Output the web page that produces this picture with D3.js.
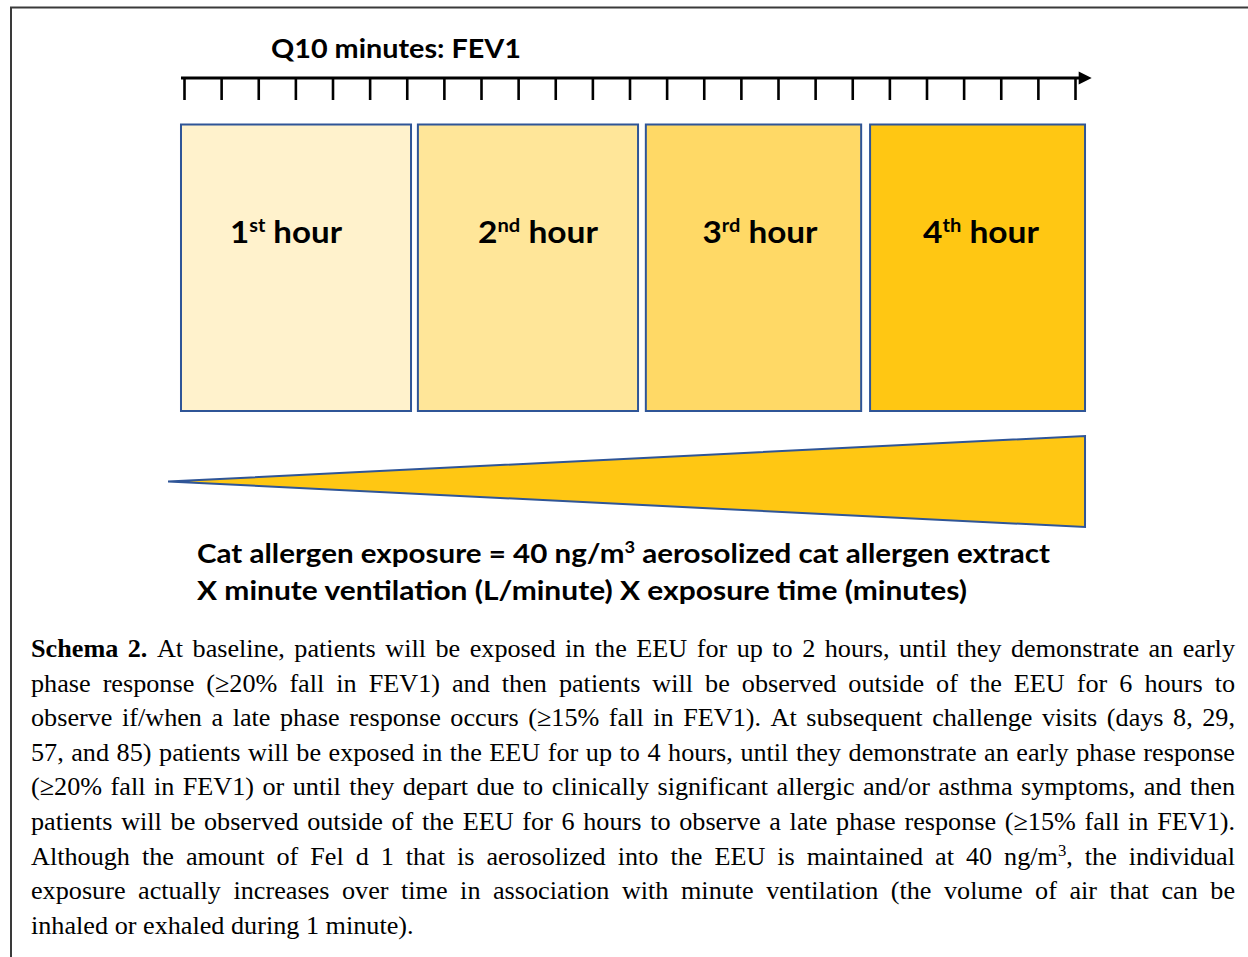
<!DOCTYPE html>
<html>
<head>
<meta charset="utf-8">
<script src="https://cdn.jsdelivr.net/npm/d3@7"></script>
<style>
  html, body { margin: 0; padding: 0; background: #fff; }
  svg { display: block; }
</style>
</head>
<body>
<svg id="chart" width="1248" height="957"></svg>
<script>
// ---------- data ----------
const title = "Q10 minutes: FEV1";
const tickMinutes = d3.range(0, 241, 10);             // FEV1 every 10 minutes over 4 hours
const hourNumbers = ["1", "2", "3", "4"];
const hourSuffixes = ["st", "nd", "rd", "th"];
const hourStart = [-0.81, 63.0, 124.4, 184.8];         // minutes (box extents)
const hourEnd = [61.15, 122.3, 182.4, 242.7];
const hourFills = ["#FFF2CC", "#FFE699", "#FFD966", "#FFC713"];
const exposureTime = [-4.3, 242.7];                    // ramp of cumulative exposure
const exposureLevel = [0, 1];
const formulaLines = [
  [{t: "Cat allergen exposure = 40 ng/m"}, {t: "3", sup: true}, {t: " aerosolized cat allergen extract"}],
  [{t: "X minute ventilation (L/minute) X exposure time (minutes)"}]
];
const captionLines = [
  "**Schema **2.** At baseline, patients will be exposed in the EEU for up to 2 hours, until they demonstrate an early",
  "phase response (≥20% fall in FEV1) and then patients will be observed outside of the EEU for 6 hours to",
  "observe if/when a late phase response occurs (≥15% fall in FEV1). At subsequent challenge visits (days 8, 29,",
  "57, and 85) patients will be exposed in the EEU for up to 4 hours, until they demonstrate an early phase response",
  "(≥20% fall in FEV1) or until they depart due to clinically significant allergic and/or asthma symptoms, and then",
  "patients will be observed outside of the EEU for 6 hours to observe a late phase response (≥15% fall in FEV1).",
  "Although the amount of Fel d 1 that is aerosolized into the EEU is maintained at 40 ng/m^3, the individual",
  "exposure actually increases over time in association with minute ventilation (the volume of air that can be",
  "inhaled or exhaled during 1 minute)."
];

// ---------- layout ----------
const svg = d3.select("#chart");
const blue = "#2F5597";
const sans = "Lato, 'Open Sans', sans-serif";
const serif = "'Liberation Serif', 'Times New Roman', serif";

const x = d3.scaleLinear().domain([0, 240]).range([184, 1075]);

// frame (top and left edge of caption box)
svg.append("path")
  .attr("d", "M11,957 L11,7.5 L1248,7.5")
  .attr("fill", "none").attr("stroke", "#3a3a3a").attr("stroke-width", 2);

// title
svg.append("text")
  .attr("x", 271).attr("y", 58)
  .attr("font-family", sans).attr("font-weight", 700).attr("font-size", 27)
  .attr("textLength", 250).attr("lengthAdjust", "spacingAndGlyphs")
  .text(title);

// time arrow
const axisY = 78;
svg.append("line")
  .attr("x1", x(-0.81)).attr("x2", x(241.2))
  .attr("y1", axisY).attr("y2", axisY)
  .attr("stroke", "#000").attr("stroke-width", 3.2);
svg.append("path")
  .attr("d", `M${x(241)},${axisY - 6.5} L${x(241) + 13},${axisY} L${x(241)},${axisY + 6.5} Z`)
  .attr("fill", "#000");

const axis = d3.axisBottom(x).tickValues(tickMinutes).tickSize(21).tickFormat("");
const ag = svg.append("g").attr("transform", `translate(0,${axisY + 1})`).call(axis);
ag.select(".domain").remove();
ag.selectAll(".tick line").attr("stroke", "#000").attr("stroke-width", 2.6);

// hour boxes
const boxTop = 124.5, boxBottom = 411;
const hours = hourNumbers.map((n, i) => ({n, s: hourSuffixes[i], a: hourStart[i], b: hourEnd[i], fill: hourFills[i]}));
svg.selectAll("rect.hour").data(hours).join("rect")
  .attr("class", "hour")
  .attr("x", d => x(d.a)).attr("width", d => x(d.b) - x(d.a))
  .attr("y", boxTop).attr("height", boxBottom - boxTop)
  .attr("fill", d => d.fill)
  .attr("stroke", blue).attr("stroke-width", 2);

const labelCenters = [286, 538, 760, 981];
const labelWidths = [112, 120, 115, 116];
const hl = svg.selectAll("text.hour").data(hours).join("text")
  .attr("class", "hour")
  .attr("x", (d, i) => labelCenters[i] - labelWidths[i] / 2)
  .attr("y", 243)
  .attr("font-family", sans).attr("font-weight", 700).attr("font-size", 30)
  .attr("textLength", (d, i) => labelWidths[i]).attr("lengthAdjust", "spacingAndGlyphs");
hl.append("tspan").text(d => d.n);
hl.append("tspan").attr("font-size", 18).attr("dy", -11).text(d => d.s);
hl.append("tspan").attr("dy", 11).text(d => "\u00A0hour");

// exposure wedge
const hScale = d3.scaleLinear().domain([0, 1]).range([0, 45.5]);
const cy = 481.5;
const wedge = [
  [x(exposureTime[0]), cy - hScale(exposureLevel[0])],
  [x(exposureTime[1]), cy - hScale(exposureLevel[1])],
  [x(exposureTime[1]), cy + hScale(exposureLevel[1])],
  [x(exposureTime[0]), cy + hScale(exposureLevel[0])]
];
svg.append("path")
  .attr("d", d3.line()(wedge) + "Z")
  .attr("fill", hourFills[3]).attr("stroke", blue).attr("stroke-width", 2)
  .attr("stroke-linejoin", "miter");

// formula text
const formulaY = [563, 600];
const formulaW = [853, 770];
formulaLines.forEach((segs, li) => {
  const t = svg.append("text")
    .attr("x", 197).attr("y", formulaY[li])
    .attr("font-family", sans).attr("font-weight", 700).attr("font-size", 27.5)
    .attr("textLength", formulaW[li]).attr("lengthAdjust", "spacingAndGlyphs");
  segs.forEach(s => {
    if (s.sup) {
      t.append("tspan").attr("font-size", 17).attr("dy", -10).text(s.t);
    } else {
      const sp = t.append("tspan").text(s.t.replace(/ /g, "\u00A0"));
      if (t.selectAll("tspan").size() > 1) sp.attr("dy", 10);
    }
  });
});

// caption (justified)
const capLeft = 31, capRight = 1235, capY0 = 657, capDy = 34.6, capSize = 26.2;
captionLines.forEach((line, li) => {
  const y = capY0 + li * capDy;
  const words = line.split(" ");
  const nodes = [];
  words.forEach((w, wi) => {
    const t = svg.append("text").attr("y", y)
      .attr("font-family", serif).attr("font-size", capSize).attr("fill", "#000");
    let word = w;
    let bold = false;
    if (li === 0 && wi < 2) { bold = true; word = w.replace(/\*/g, ""); }
    if (bold) t.attr("font-weight", 700);
    const m = word.split("^");
    if (m.length === 2) {
      t.append("tspan").text(m[0]);
      t.append("tspan").attr("font-size", capSize * 0.64).attr("dy", -9).text(m[1][0]);
      t.append("tspan").attr("dy", 9).text(m[1].slice(1));
    } else {
      t.text(word);
    }
    nodes.push(t);
  });
  const widths = nodes.map(n => n.node().getComputedTextLength());
  const total = d3.sum(widths);
  const last = li === captionLines.length - 1;
  const spaceW = capSize * 0.25;
  const gap = last ? spaceW : (capRight - capLeft - total) / (nodes.length - 1);
  let cx = capLeft;
  nodes.forEach((n, i) => { n.attr("x", cx); cx += widths[i] + gap; });
});
</script>
</body>
</html>
